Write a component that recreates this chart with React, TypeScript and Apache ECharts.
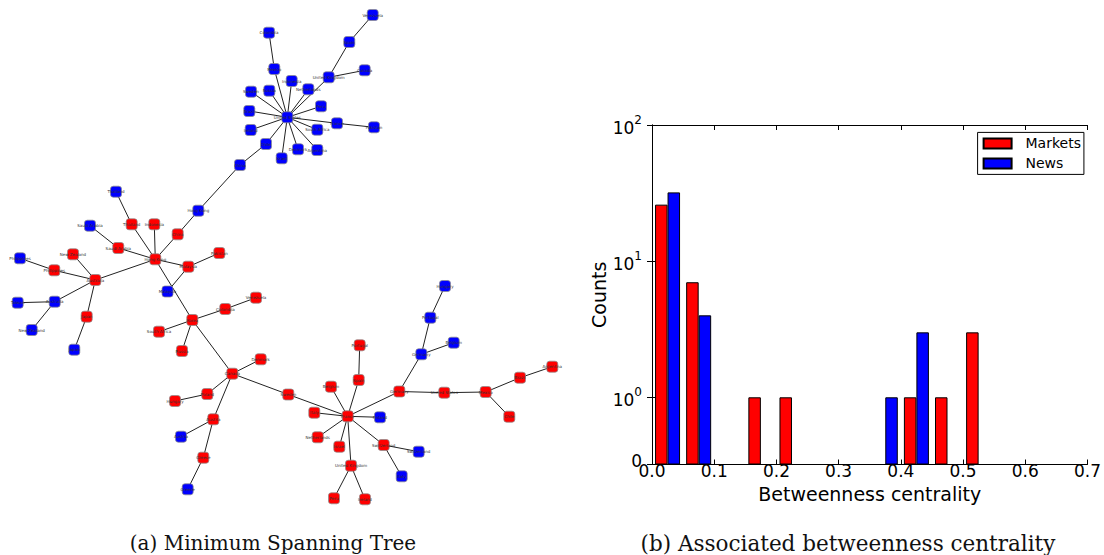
import { useEffect, useRef } from "react";
import * as echarts from "echarts";

// ---------- Histogram data (betweenness centrality) ----------
const binEdges = [0, 0.05, 0.1, 0.15, 0.2, 0.25, 0.3, 0.35, 0.4, 0.45, 0.5, 0.55, 0.6, 0.65];
const marketsCounts = [26, 7, 0, 1, 1, 0, 0, 0, 1, 1, 3, 0, 0];
const newsCounts = [32, 4, 0, 0, 0, 0, 0, 1, 3, 0, 0, 0, 0];
const seriesNames = ["Markets", "News"];
const xAxisName = "Betweenness centrality";
const yAxisName = "Counts";
const captions = ["(a) Minimum Spanning Tree", "(b) Associated betweenness centrality"];

// ---------- Minimum spanning tree: nodes [id, label, group, layoutX, layoutY] ----------
const nodes: [string, string, string, number, number][] = [
  ["N-US", "United States", "N", 287.3, 117.3],
  ["N-Mexico", "Mexico", "N", 274.3, 69],
  ["N-Colombia", "Colombia", "N", 269, 32.7],
  ["N-Indonesia", "Indonesia", "N", 291.7, 81],
  ["N-Netherlands", "Netherlands", "N", 308.3, 89.3],
  ["N-UK", "United Kingdom", "N", 328.7, 77.3],
  ["N-Spain", "Spain", "N", 349.3, 42],
  ["N-Venezuela", "Venezuela", "N", 372.7, 15],
  ["N-Canada", "Canada", "N", 364.7, 70.3],
  ["N-Sweden", "Sweden", "N", 251, 91.7],
  ["N-Russia", "Russia", "N", 269.3, 90.7],
  ["N-Peru", "Peru", "N", 321, 106.3],
  ["N-Brazil", "Brazil", "N", 249.3, 111],
  ["N-Ireland", "Ireland", "N", 250.7, 130],
  ["N-SouthAfrica", "South Africa", "N", 317.3, 129.7],
  ["N-France", "France", "N", 337, 123.3],
  ["N-Pakistan", "Pakistan", "N", 374, 127.3],
  ["N-Chile", "Chile", "N", 266, 144],
  ["N-Israel", "Israel", "N", 281.7, 158.3],
  ["N-Denmark", "Denmark", "N", 298, 149.3],
  ["N-Argentina", "Argentina", "N", 317.3, 150],
  ["N-China", "China", "N", 240, 165],
  ["N-HongKong", "Hong Kong", "N", 198.3, 210.7],
  ["N-Thailand", "Thailand", "N", 116, 191.7],
  ["N-SaudiArabia", "Saudi Arabia", "N", 90, 225.7],
  ["N-Malaysia", "Malaysia", "N", 167.5, 291.5],
  ["N-Philippines", "Philippines", "N", 20, 258.3],
  ["N-Australia", "Australia", "N", 54.7, 301.7],
  ["N-Taiwan", "Taiwan", "N", 17.7, 302.7],
  ["N-NewZealand", "New Zealand", "N", 31.7, 330],
  ["N-Japan", "Japan", "N", 74.3, 349.7],
  ["N-Austria", "Austria", "N", 181, 436.7],
  ["N-Greece", "Greece", "N", 187.7, 489.3],
  ["N-Finland", "Finland", "N", 380, 417.3],
  ["N-Switzerland", "Switzerland", "N", 418.7, 451.7],
  ["N-Italy", "Italy", "N", 401.7, 476.3],
  ["N-Germany", "Germany", "N", 421.3, 354.3],
  ["N-Portugal", "Portugal", "N", 430.3, 317.7],
  ["N-Hungary", "Hungary", "N", 445, 286],
  ["N-Belgium", "Belgium", "N", 453.7, 342.7],
  ["M-China", "China", "M", 177.7, 234.3],
  ["M-HongKong", "Hong Kong", "M", 155.3, 259.3],
  ["M-Thailand", "Thailand", "M", 131.7, 224.3],
  ["M-Indonesia", "Indonesia", "M", 154.3, 224.3],
  ["M-SaudiArabia", "Saudi Arabia", "M", 118.3, 248],
  ["M-Malaysia", "Malaysia", "M", 188.3, 266.7],
  ["M-Pakistan", "Pakistan", "M", 219.3, 253],
  ["M-Australia", "Australia", "M", 95.3, 280],
  ["M-NewZealand", "New Zealand", "M", 73, 254.3],
  ["M-Philippines", "Philippines", "M", 54.3, 270.3],
  ["M-Japan", "Japan", "M", 86.7, 316.7],
  ["M-Korea", "Korea", "M", 192.3, 320],
  ["M-Colombia", "Colombia", "M", 225.3, 309],
  ["M-Venezuela", "Venezuela", "M", 256, 297.7],
  ["M-SouthAfrica", "South Africa", "M", 159, 331.7],
  ["M-Russia", "Russia", "M", 182, 351],
  ["M-Canada", "Canada", "M", 232.3, 373.7],
  ["M-Denmark", "Denmark", "M", 260.7, 359.3],
  ["M-Poland", "Poland", "M", 207.3, 394],
  ["M-Hungary", "Hungary", "M", 175, 401],
  ["M-Austria", "Austria", "M", 213.3, 419.3],
  ["M-Greece", "Greece", "M", 203.3, 457.7],
  ["M-Sweden", "Sweden", "M", 288.3, 394.5],
  ["M-France", "France", "M", 347.7, 416.3],
  ["M-Belgium", "Belgium", "M", 331, 386.7],
  ["M-Spain", "Spain", "M", 358.7, 380],
  ["M-Portugal", "Portugal", "M", 359.7, 345.3],
  ["M-Italy", "Italy", "M", 314.3, 412.7],
  ["M-Netherlands", "Netherlands", "M", 317.7, 437.3],
  ["M-Israel", "Israel", "M", 339.3, 446.7],
  ["M-UK", "United Kingdom", "M", 351, 465.7],
  ["M-Peru", "Peru", "M", 334, 498.3],
  ["M-Ireland", "Ireland", "M", 365, 499.3],
  ["M-Switzerland", "Switzerland", "M", 383.7, 445],
  ["M-Germany", "Germany", "M", 399.3, 391.5],
  ["M-US", "United States", "M", 444.3, 392.7],
  ["M-Mexico", "Mexico", "M", 485.7, 392],
  ["M-Brazil", "Brazil", "M", 520, 377.7],
  ["M-Argentina", "Argentina", "M", 552.3, 366.7],
  ["M-Chile", "Chile", "M", 509.3, 416.7],
];

const edges: [string, string][] = [
  ["N-US", "N-Mexico"], ["N-US", "N-Indonesia"], ["N-US", "N-Netherlands"], ["N-US", "N-UK"],
  ["N-US", "N-Sweden"], ["N-US", "N-Russia"], ["N-US", "N-Peru"], ["N-US", "N-Brazil"],
  ["N-US", "N-Ireland"], ["N-US", "N-SouthAfrica"], ["N-US", "N-France"], ["N-US", "N-Chile"],
  ["N-US", "N-Israel"], ["N-US", "N-Denmark"], ["N-US", "N-Argentina"],
  ["N-Mexico", "N-Colombia"], ["N-UK", "N-Spain"], ["N-Spain", "N-Venezuela"], ["N-UK", "N-Canada"],
  ["N-France", "N-Pakistan"], ["N-Chile", "N-China"], ["N-China", "N-HongKong"], ["N-HongKong", "M-China"],
  ["M-China", "M-HongKong"], ["M-HongKong", "M-Thailand"], ["M-HongKong", "M-Indonesia"],
  ["M-HongKong", "M-SaudiArabia"], ["M-HongKong", "M-Malaysia"], ["M-HongKong", "M-Australia"],
  ["M-HongKong", "M-Korea"], ["M-Thailand", "N-Thailand"], ["M-SaudiArabia", "N-SaudiArabia"],
  ["M-Malaysia", "M-Pakistan"], ["M-Malaysia", "N-Malaysia"],
  ["M-Australia", "M-NewZealand"], ["M-Australia", "M-Philippines"], ["M-Australia", "N-Australia"],
  ["M-Australia", "M-Japan"], ["M-Philippines", "N-Philippines"], ["N-Australia", "N-Taiwan"],
  ["N-Australia", "N-NewZealand"], ["M-Japan", "N-Japan"],
  ["M-Korea", "M-Colombia"], ["M-Korea", "M-SouthAfrica"], ["M-Korea", "M-Russia"], ["M-Korea", "M-Canada"],
  ["M-Colombia", "M-Venezuela"], ["M-Canada", "M-Denmark"], ["M-Canada", "M-Poland"],
  ["M-Canada", "M-Austria"], ["M-Canada", "M-Sweden"], ["M-Poland", "M-Hungary"],
  ["M-Austria", "N-Austria"], ["M-Austria", "M-Greece"], ["M-Greece", "N-Greece"],
  ["M-Sweden", "M-France"], ["M-France", "M-Belgium"], ["M-France", "M-Spain"], ["M-France", "M-Germany"],
  ["M-France", "M-Italy"], ["M-France", "N-Finland"], ["M-France", "M-Netherlands"],
  ["M-France", "M-Israel"], ["M-France", "M-UK"], ["M-France", "M-Switzerland"],
  ["M-Spain", "M-Portugal"], ["M-UK", "M-Peru"], ["M-UK", "M-Ireland"],
  ["M-Switzerland", "N-Switzerland"], ["M-Switzerland", "N-Italy"],
  ["M-Germany", "N-Germany"], ["N-Germany", "N-Portugal"], ["N-Portugal", "N-Hungary"],
  ["N-Germany", "N-Belgium"], ["M-Germany", "M-US"], ["M-US", "M-Mexico"], ["M-Mexico", "M-Brazil"],
  ["M-Brazil", "M-Argentina"], ["M-Mexico", "M-Chile"],
];

const RED = "#ff0000";
const BLUE = "#0000ff";
const FONT = "DejaVu Sans";
const Y_MIN = 0.321;

export default function App() {
  const ref = useRef<HTMLDivElement>(null);
  useEffect(() => {
    const chart = echarts.init(ref.current!, null, { renderer: "svg" });
    const idx = new Map(nodes.map((n, i) => [n[0], i]));
    const centers = binEdges.slice(0, -1).map((e, i) => (e + binEdges[i + 1]) / 2);
    const barData = (arr: number[]) =>
      arr.map((v, i) => [centers[i], v]).filter((d) => d[1] > 0);

    const axisLine = { show: true, lineStyle: { color: "#000", width: 1 } };
    const axisTick = { show: true, inside: true, length: 5, lineStyle: { color: "#000", width: 1 } };

    const option: any = {
      animation: false,
      grid: [
        { left: 0, top: 0, width: 600, height: 555 },
        { left: 652, top: 125, width: 437, height: 339.5 },
      ],
      xAxis: [
        { gridIndex: 0, type: "value", min: 0, max: 600, show: false },
        {
          gridIndex: 1, type: "value", min: 0, max: 0.7, interval: 0.1,
          axisLine, axisTick, splitLine: { show: false },
          axisLabel: { fontSize: 17, fontFamily: FONT, color: "#000", margin: -2, formatter: (v: number) => v.toFixed(1) },
          name: xAxisName, nameLocation: "middle", nameGap: 20,
          nameTextStyle: { fontSize: 19, fontFamily: FONT, color: "#000" },
        },
        {
          gridIndex: 1, type: "value", position: "top", min: 0, max: 0.7, interval: 0.1,
          axisLine, axisTick, splitLine: { show: false }, axisLabel: { show: false },
        },
      ],
      yAxis: [
        { gridIndex: 0, type: "value", min: 0, max: 555, inverse: true, show: false },
        {
          gridIndex: 1, type: "log", logBase: 10, min: Y_MIN, max: 100, startValue: Y_MIN,
          axisLine, axisTick, splitLine: { show: false }, minorTick: { show: false },
          axisLabel: {
            margin: 10,
            formatter: (v: number) => (v < 0.9 ? "{z|0}" : `{b|10}{s|${Math.round(Math.log10(v))}}`),
            rich: {
              z: { fontSize: 17, fontFamily: FONT, color: "#000", padding: [0, 0, 7, 0] },
              b: { fontSize: 17, fontFamily: FONT, color: "#000", verticalAlign: "bottom", lineHeight: 22 },
              s: { fontSize: 12, fontFamily: FONT, color: "#000", verticalAlign: "top", lineHeight: 22, padding: [0, 0, 8, 0] },
            },
          },
          name: yAxisName, nameLocation: "middle", nameGap: 38,
          nameTextStyle: { fontSize: 19, fontFamily: FONT, color: "#000" },
        },
        {
          gridIndex: 1, type: "log", logBase: 10, position: "right", min: Y_MIN, max: 100,
          axisLine, axisTick, splitLine: { show: false }, minorTick: { show: false }, axisLabel: { show: false },
        },
      ],
      legend: {
        data: seriesNames,
        orient: "vertical",
        left: 977.6,
        top: 132.4,
        icon: "rect",
        itemWidth: 28,
        itemHeight: 10,
        itemGap: 6,
        padding: [4, 3, 4, 5],
        borderColor: "#000",
        borderWidth: 1,
        formatter: (n: string) => "  " + n,
        textStyle: { fontSize: 14, fontFamily: FONT, color: "#000" },
      },
      series: [
        {
          type: "graph", coordinateSystem: "cartesian2d", xAxisIndex: 0, yAxisIndex: 0,
          layout: "none", symbol: "roundRect", symbolSize: 11,
          data: nodes.map((n) => ({
            name: n[0], value: [n[3], n[4]],
            label: { formatter: n[1] },
            itemStyle: { color: n[2] === "M" ? RED : BLUE },
          })),
          links: edges.map(([a, b]) => ({ source: idx.get(a), target: idx.get(b) })),
          lineStyle: { color: "#222", width: 1, opacity: 1, curveness: 0 },
          itemStyle: { borderColor: "rgba(140,140,140,0.75)", borderWidth: 1 },
          label: { show: true, position: "inside", fontSize: 4, color: "#333", fontFamily: FONT },
          emphasis: { disabled: true },
          silent: true,
        },
        {
          name: seriesNames[0], type: "bar", xAxisIndex: 1, yAxisIndex: 1,
          data: barData(marketsCounts), barWidth: 12.5, barGap: "0%",
          itemStyle: { color: RED, borderColor: "#000", borderWidth: 1 },
        },
        {
          name: seriesNames[1], type: "bar", xAxisIndex: 1, yAxisIndex: 1,
          data: barData(newsCounts), barWidth: 12.5, barGap: "0%",
          itemStyle: { color: BLUE, borderColor: "#000", borderWidth: 1 },
        },
      ],
      graphic: [
        {
          type: "text", x: 273, y: 543,
          style: { text: captions[0], fontSize: 20, fontFamily: "DejaVu Serif", fill: "#111", align: "center", verticalAlign: "middle" },
        },
        {
          type: "text", x: 848, y: 543,
          style: { text: captions[1], fontSize: 21.5, fontFamily: "DejaVu Serif", fill: "#111", align: "center", verticalAlign: "middle" },
        },
      ],
    };
    chart.setOption(option);
    return () => chart.dispose();
  }, []);
  return <div ref={ref} style={{ position: "fixed", left: 0, top: 0, width: 1104, height: 555, background: "#fff" }} />;
}
